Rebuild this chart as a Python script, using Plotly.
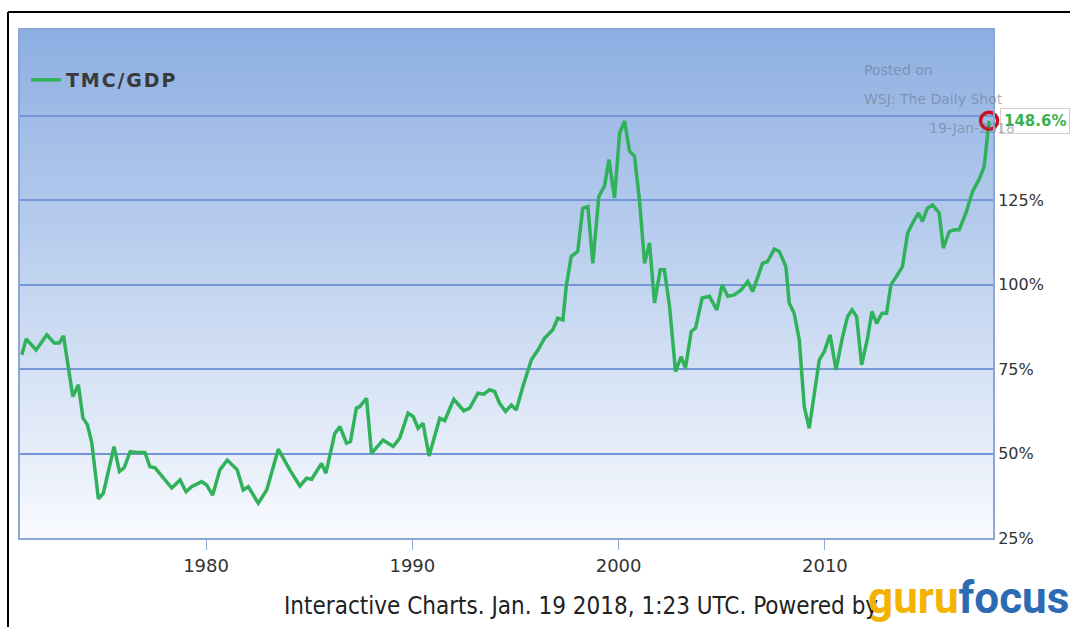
import plotly.graph_objects as go

# Total market cap / GDP, quarterly readings (decimal year, percent)
years = [
    1971.07, 1971.28, 1971.76, 1972.28, 1972.64, 1972.89, 1973.09, 1973.33, 1973.54, 1973.81,
    1974.03, 1974.25, 1974.46, 1974.78, 1975.02, 1975.54, 1975.80, 1976.03, 1976.32, 1976.64,
    1977.04, 1977.28, 1977.53, 1977.93, 1978.34, 1978.74, 1979.03, 1979.30, 1979.79, 1980.03,
    1980.32, 1980.67, 1981.03, 1981.51, 1981.80, 1982.05, 1982.53, 1982.94, 1983.50, 1984.06,
    1984.55, 1984.87, 1985.12, 1985.60, 1985.81, 1986.24, 1986.49, 1986.81, 1987.00, 1987.29,
    1987.45, 1987.78, 1988.02, 1988.58, 1989.07, 1989.39, 1989.79, 1990.04, 1990.28, 1990.52,
    1990.81, 1991.33, 1991.57, 1992.01, 1992.49, 1992.78, 1993.18, 1993.46, 1993.75, 1993.99,
    1994.23, 1994.52, 1994.80, 1995.04, 1995.36, 1995.77, 1996.09, 1996.41, 1996.81, 1997.05,
    1997.30, 1997.46, 1997.70, 1998.02, 1998.26, 1998.51, 1998.75, 1999.04, 1999.32, 1999.53,
    1999.80, 2000.05, 2000.29, 2000.53, 2000.77, 2001.01, 2001.26, 2001.50, 2001.74, 2002.02,
    2002.22, 2002.47, 2002.76, 2003.03, 2003.24, 2003.52, 2003.73, 2004.05, 2004.40, 2004.76,
    2005.02, 2005.29, 2005.61, 2005.94, 2006.26, 2006.50, 2006.98, 2007.22, 2007.55, 2007.79,
    2008.11, 2008.27, 2008.51, 2008.76, 2009.00, 2009.24, 2009.49, 2009.73, 2009.97, 2010.25,
    2010.54, 2010.86, 2011.10, 2011.32, 2011.54, 2011.78, 2012.07, 2012.28, 2012.51, 2012.77,
    2012.99, 2013.20, 2013.47, 2013.76, 2014.01, 2014.25, 2014.54, 2014.73, 2014.97, 2015.22,
    2015.54, 2015.74, 2016.03, 2016.27, 2016.51, 2016.84, 2017.16, 2017.48, 2017.72, 2017.96,
]
tmc_gdp = [
    79.3, 84.0, 80.7, 85.2, 82.8, 82.8, 84.9, 74.8, 66.9, 70.4,
    60.6, 58.5, 53.2, 36.6, 38.3, 52.1, 44.7, 45.8, 50.6, 50.3,
    50.3, 46.1, 45.8, 42.8, 39.8, 42.2, 38.7, 40.2, 41.7, 40.7,
    37.7, 45.2, 48.1, 45.2, 39.2, 40.2, 35.3, 39.2, 51.3, 45.2,
    40.4, 42.7, 42.4, 47.1, 44.2, 56.0, 58.0, 53.1, 53.6, 63.5,
    63.9, 66.4, 50.1, 54.0, 52.1, 54.6, 62.0, 61.0, 57.5, 59.0,
    49.3, 60.5, 59.8, 66.1, 62.7, 63.5, 67.9, 67.6, 68.9, 68.4,
    64.9, 62.5, 64.4, 62.9, 69.9, 77.8, 80.7, 84.2, 86.7, 90.1,
    89.6, 99.5, 108.4, 109.9, 122.7, 123.2, 106.4, 126.2, 129.4, 137.1,
    125.7, 145.0, 148.5, 139.6, 138.1, 125.2, 106.4, 112.4, 94.6, 104.5,
    104.5, 93.6, 74.3, 78.7, 75.3, 86.2, 87.2, 96.1, 96.6, 92.6,
    100.0, 96.6, 97.0, 98.5, 101.0, 98.0, 106.4, 106.9, 110.6, 109.9,
    105.4, 94.6, 91.6, 83.7, 63.9, 57.5, 67.9, 77.8, 80.2, 85.2,
    74.8, 84.7, 90.6, 92.6, 90.6, 76.3, 84.2, 92.1, 88.6, 91.6,
    91.6, 100.0, 102.5, 105.4, 115.3, 118.3, 121.3, 118.8, 122.7, 123.7,
    121.3, 110.9, 115.8, 116.3, 116.3, 121.3, 127.7, 131.3, 135.0, 148.6,
]
x_ticks = [1980, 1990, 2000, 2010]
y_ticks = [25, 50, 75, 100, 125, 150]
y_tick_text = ["25%", "50%", "75%", "100%", "125%", ""]
series_name = "TMC/GDP"

W, H = 1070, 627
L, R, T, B = 20, 77, 30, 89
PW, PH = W - L - R, H - T - B


def px(x):
    return (x - L) / PW


def py(y):
    return (H - B - y) / PH


LINE_GREEN = "#2fb25a"
GRID_BLUE = "#7596d6"
AXIS_BLUE = "#8ea6d4"

fig = go.Figure()
fig.add_trace(go.Scatter(
    x=years, y=tmc_gdp, mode="lines",
    name="\u200a".join(series_name),  # slightly letter-spaced legend label
    line=dict(color=LINE_GREEN, width=3.5),
))
fig.add_trace(go.Scatter(
    x=[years[-1]], y=[tmc_gdp[-1]], mode="markers", showlegend=False, cliponaxis=False,
    marker=dict(symbol="circle-open", size=17, color="#cc1020", line=dict(width=3.5, color="#cc1020")),
))

# vertical blue-to-white background gradient inside the plot area
shapes = []
N = 120
top_rgb = (141, 175, 226)
bot_rgb = (248, 250, 254)
for i in range(N):
    f = i / (N - 1)
    c = tuple(round(bot_rgb[k] + (top_rgb[k] - bot_rgb[k]) * f) for k in range(3))
    shapes.append(dict(
        type="rect", xref="paper", yref="paper", x0=0, x1=1,
        y0=i / N, y1=(i + 1) / N + 0.002, layer="below",
        line=dict(width=0), fillcolor=f"rgb({c[0]},{c[1]},{c[2]})",
    ))
# outer black frame
shapes.append(dict(type="line", xref="paper", yref="paper", x0=px(8), x1=px(1072),
                   y0=py(12), y1=py(12), line=dict(color="black", width=2)))
shapes.append(dict(type="line", xref="paper", yref="paper", x0=px(8), x1=px(8),
                   y0=py(12), y1=py(630), line=dict(color="black", width=2)))

mark_font = dict(family="DejaVu Sans", size=14, color="rgba(105,115,135,0.55)")
annotations = [
    dict(xref="paper", yref="paper", x=px(862), y=py(70), xanchor="left", yanchor="middle",
         text="Posted on", showarrow=False, font=mark_font),
    dict(xref="paper", yref="paper", x=px(862), y=py(99), xanchor="left", yanchor="middle",
         text="WSJ: The Daily Shot", showarrow=False, font=mark_font),
    dict(x=years[-1], y=tmc_gdp[-1], xanchor="left", yanchor="middle", xshift=11,
         text=f"<b>{tmc_gdp[-1]:.1f}%</b>", showarrow=False,
         font=dict(family="DejaVu Sans", size=15, color="#3cb251"),
         bordercolor="#dccaca", borderwidth=1, borderpad=3, bgcolor="rgba(255,255,255,0.6)"),
    dict(xref="paper", yref="paper", x=px(1017), y=py(128), xanchor="right", yanchor="middle",
         text="19-Jan-2018", showarrow=False, font=mark_font),
    dict(xref="paper", yref="paper", x=px(282), y=py(606), xanchor="left", yanchor="middle",
         text="Interactive Charts. Jan. 19 2018, 1:23 UTC. Powered by", showarrow=False,
         font=dict(family="DejaVu Sans Condensed, Liberation Sans Narrow, DejaVu Sans", size=24, color="#222222")),
    dict(xref="paper", yref="paper", x=px(866), y=py(598), xanchor="left", yanchor="middle",
         text="<b><span style='color:#f3b300'>guru</span><span style='color:#2c6bb2'>focus</span></b>",
         showarrow=False, font=dict(family="Roboto", size=44)),
]

fig.update_layout(
    width=W, height=H,
    margin=dict(l=L, r=R, t=T, b=B),
    paper_bgcolor="white", plot_bgcolor="rgba(0,0,0,0)",
    shapes=shapes, annotations=annotations,
    showlegend=True,
    legend=dict(x=px(26), y=py(80), xanchor="left", yanchor="middle",
                bgcolor="rgba(0,0,0,0)", borderwidth=0,
                font=dict(family="DejaVu Sans", size=19, color="#3a3a3a", weight="bold")),
    xaxis=dict(range=[1970.98, 2018.15], tickmode="array", tickvals=x_ticks,
               ticks="outside", ticklen=10, tickwidth=1, tickcolor=AXIS_BLUE,
               showgrid=False, zeroline=False, showline=True, linecolor=AXIS_BLUE, linewidth=2,
               mirror=True, tickfont=dict(family="DejaVu Sans", size=18, color="#333333")),
    yaxis=dict(range=[25, 175.5], side="right", tickmode="array", tickvals=y_ticks, ticktext=y_tick_text,
               showgrid=True, gridcolor=GRID_BLUE, gridwidth=1.5, zeroline=False,
               showline=True, linecolor=AXIS_BLUE, linewidth=2, mirror=True, ticks="",
               tickfont=dict(family="DejaVu Sans", size=16, color="#333333")),
)

fig.write_html("out.html")
